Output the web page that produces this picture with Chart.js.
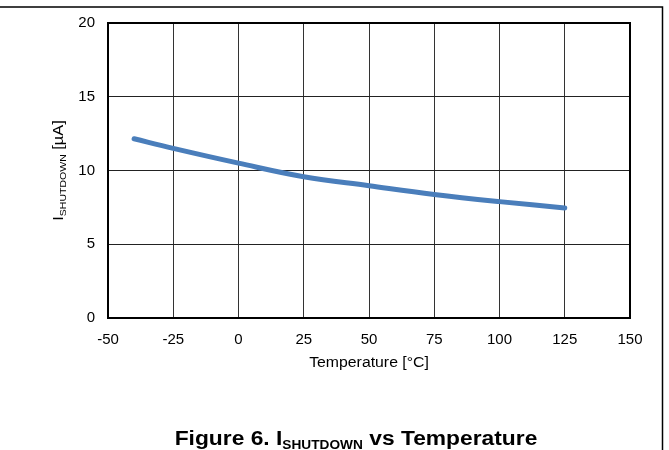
<!DOCTYPE html>
<html>
<head>
<meta charset="utf-8">
<script src="https://cdn.jsdelivr.net/npm/chart.js@4.4.1/dist/chart.umd.min.js"></script>
<style>
  html, body { margin: 0; padding: 0; background: #fff; }
  #wrap { position: relative; width: 669px; height: 450px; }
</style>
</head>
<body>
<div id="wrap"><canvas id="shutdownChart" width="669" height="450"></canvas></div>
<script>
// Data
const temperatures = [-40, -25, 0, 25, 50, 75, 100, 125];
const shutdownCurrent = [12.15, 11.5, 10.5, 9.58, 8.97, 8.38, 7.89, 7.46];
const xTicks = [-50, -25, 0, 25, 50, 75, 100, 125, 150];
const yTicks = [0, 5, 10, 15, 20];

const FONT = '"Liberation Sans", Arial, sans-serif';

// Texto con subíndice (I + SHUTDOWN)
function drawSubText(ctx, parts, x, y, align) {
    let total = 0;
    parts.forEach(p => {
        ctx.font = p.font;
        total += ctx.measureText(p.text).width;
    });
    let cx = align === 'center' ? x - total / 2 : x;
    parts.forEach(p => {
        ctx.font = p.font;
        ctx.fillText(p.text, cx, y + (p.dy || 0));
        cx += ctx.measureText(p.text).width;
    });
}

const decorPlugin = {
    id: 'decor',
    beforeDraw(chart) {
        const ctx = chart.ctx;
        ctx.save();
        ctx.fillStyle = '#fff';
        ctx.fillRect(0, 0, chart.width, chart.height);
        // outer frame: top and right
        ctx.strokeStyle = '#000';
        ctx.lineWidth = 1.5;
        ctx.beginPath();
        ctx.moveTo(0, 7);
        ctx.lineTo(662.5, 7);
        ctx.lineTo(662.5, 450);
        ctx.stroke();
        ctx.restore();
    },
    afterDraw(chart) {
        const ctx = chart.ctx;
        const a = chart.chartArea;
        ctx.save();
        // plot border
        ctx.strokeStyle = '#000';
        ctx.lineWidth = 2;
        ctx.strokeRect(a.left, a.top, a.right - a.left, a.bottom - a.top);

        ctx.fillStyle = '#000';

        // x title
        ctx.save();
        ctx.translate((a.left + a.right) / 2, 363);
        ctx.scale(1.13, 1);
        ctx.textBaseline = 'middle';
        ctx.textAlign = 'center';
        ctx.font = '14px ' + FONT;
        ctx.fillText('Temperature [°C]', 0, 0);
        ctx.restore();

        // y title, rotated
        ctx.save();
        ctx.translate(63, (a.top + a.bottom) / 2);
        ctx.rotate(-Math.PI / 2);
        ctx.scale(1.17, 1);
        ctx.textAlign = 'left';
        ctx.textBaseline = 'alphabetic';
        drawSubText(ctx, [
            { text: 'I', font: '14px ' + FONT },
            { text: 'SHUTDOWN', font: '9px ' + FONT, dy: 3 },
            { text: ' [µA]', font: '14px ' + FONT }
        ], 0, 0, 'center');
        ctx.restore();

        // caption
        ctx.save();
        ctx.translate(356, 445);
        ctx.scale(1.14, 1);
        ctx.textAlign = 'left';
        ctx.textBaseline = 'alphabetic';
        drawSubText(ctx, [
            { text: 'Figure 6. I', font: 'bold 20px ' + FONT },
            { text: 'SHUTDOWN', font: 'bold 12px ' + FONT, dy: 4 },
            { text: ' vs Temperature', font: 'bold 20px ' + FONT }
        ], 0, 0, 'center');
        ctx.restore();
        ctx.restore();
    }
};

const ctx = document.getElementById('shutdownChart').getContext('2d');
new Chart(ctx, {
    type: 'line',
    data: {
        datasets: [{
            label: 'ISHUTDOWN',
            data: temperatures.map((t, i) => ({ x: t, y: shutdownCurrent[i] })),
            borderColor: '#4a7ebb',
            borderWidth: 5,
            borderCapStyle: 'round',
            pointRadius: 0,
            tension: 0.4,
            fill: false
        }]
    },
    options: {
        responsive: false,
        animation: false,
        devicePixelRatio: 1,
        layout: {
            padding: { left: 0, top: 23, right: 39, bottom: 0 }
        },
        plugins: {
            legend: { display: false },
            tooltip: { enabled: false }
        },
        scales: {
            x: {
                type: 'linear',
                min: xTicks[0],
                max: xTicks[xTicks.length - 1],
                afterBuildTicks: s => { s.ticks = xTicks.map(v => ({ value: v })); },
                afterFit: s => { s.height = 132; },
                grid: { color: '#333', lineWidth: 1, drawTicks: false },
                border: { display: false },
                ticks: {
                    color: '#000',
                    padding: 13,
                    maxRotation: 0,
                    font: { family: FONT, size: 15 }
                }
            },
            y: {
                min: yTicks[0],
                max: yTicks[yTicks.length - 1],
                afterBuildTicks: s => { s.ticks = yTicks.map(v => ({ value: v })); },
                afterFit: s => { s.width = 108; },
                grid: { color: '#222', lineWidth: 1, drawTicks: false },
                border: { display: false },
                ticks: {
                    color: '#000',
                    padding: 13,
                    font: { family: FONT, size: 15 }
                }
            }
        }
    },
    plugins: [decorPlugin]
});
</script>
</body>
</html>
